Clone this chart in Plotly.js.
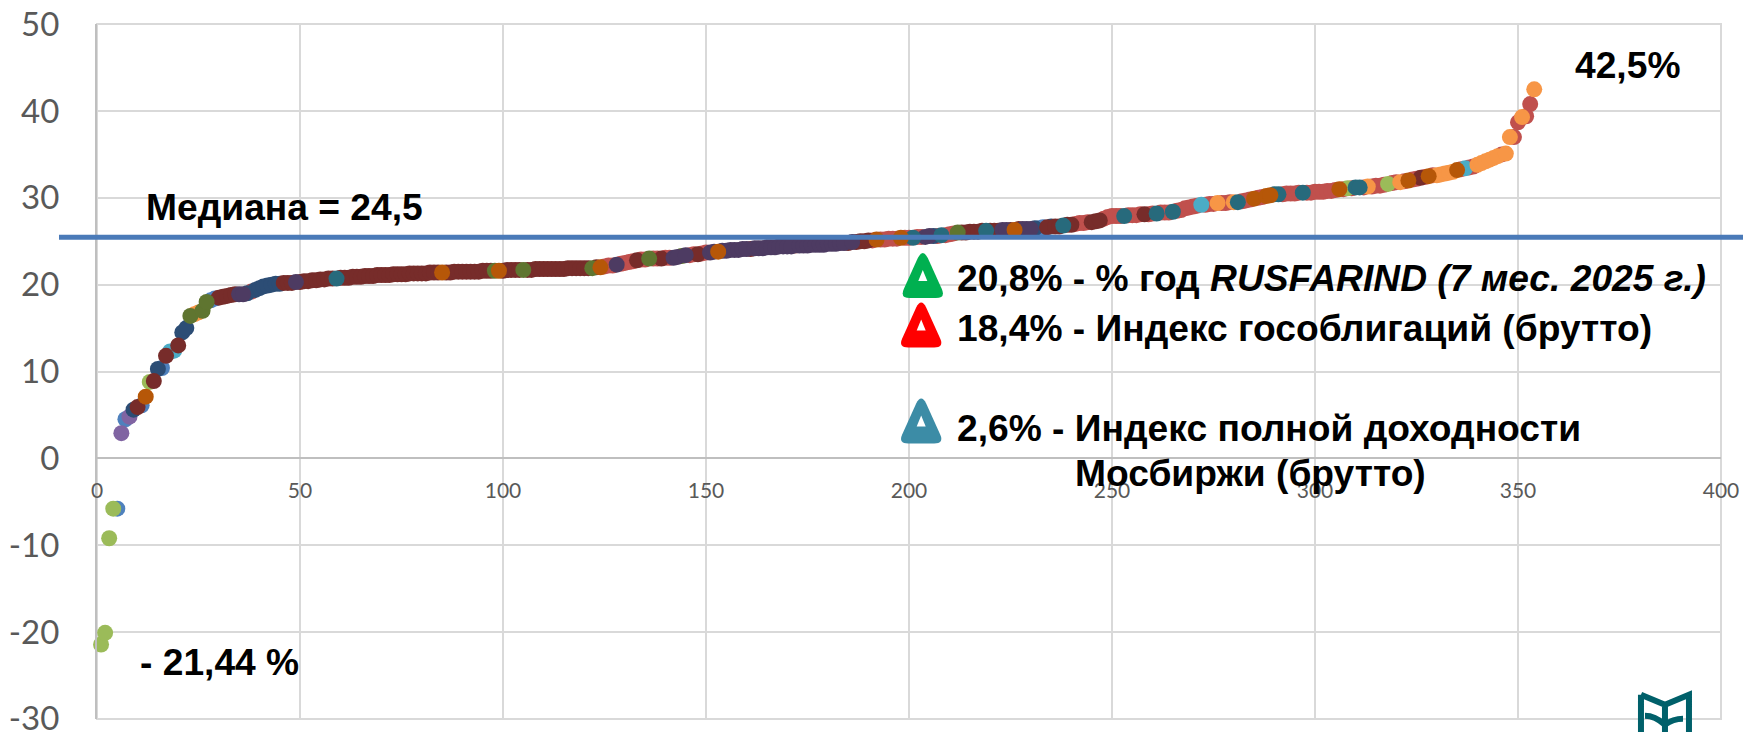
<!DOCTYPE html>
<html><head><meta charset="utf-8">
<script src="https://cdn.plot.ly/plotly-3.0.1.min.js"></script>
<style>html,body{margin:0;padding:0;background:#fff}#chart{width:1743px;height:732px}</style>
</head><body><div id="chart"></div>
<script>
// Return by rank (rank = index + 1)
const returns = [
-21.44,-20.1,-9.2,-5.8,-5.8,2.9,4.5,4.8,5.6,5.9,6.1,7.1,8.8,8.9,10.3,10.4,11.8,12.3,12.4,13.0,
14.5,15.0,16.4,16.6,16.8,17.0,18.0,18.2,18.4,18.5,18.6,18.7,18.8,18.9,18.9,18.9,19.0,19.2,19.4,19.6,
19.8,19.9,20.0,20.1,20.1,20.2,20.2,20.2,20.3,20.3,20.4,20.4,20.5,20.5,20.6,20.6,20.7,20.7,20.7,20.8,
20.8,20.8,20.9,20.9,20.9,21.0,21.0,21.0,21.1,21.1,21.1,21.1,21.2,21.2,21.2,21.2,21.3,21.3,21.3,21.3,
21.3,21.4,21.4,21.4,21.4,21.4,21.4,21.5,21.5,21.5,21.5,21.5,21.5,21.5,21.6,21.6,21.6,21.6,21.6,21.6,
21.7,21.7,21.7,21.7,21.7,21.7,21.7,21.8,21.8,21.8,21.8,21.8,21.8,21.8,21.8,21.9,21.9,21.9,21.9,21.9,
21.9,21.9,22.0,22.0,22.1,22.2,22.2,22.3,22.4,22.5,22.6,22.7,22.8,22.9,22.9,23.0,23.0,23.0,23.0,23.1,
23.1,23.1,23.2,23.3,23.4,23.4,23.5,23.5,23.6,23.7,23.7,23.8,23.8,23.9,23.9,24.0,24.0,24.0,24.1,24.1,
24.1,24.2,24.2,24.2,24.3,24.3,24.3,24.4,24.4,24.4,24.4,24.5,24.5,24.5,24.5,24.6,24.6,24.6,24.6,24.7,
24.7,24.7,24.8,24.8,24.8,24.9,24.9,25.0,25.0,25.1,25.1,25.2,25.2,25.2,25.3,25.3,25.3,25.4,25.4,25.4,
25.4,25.5,25.5,25.5,25.6,25.6,25.6,25.7,25.7,25.8,25.9,26.0,26.0,26.0,26.1,26.1,26.1,26.2,26.2,26.2,
26.2,26.2,26.3,26.3,26.3,26.3,26.4,26.4,26.4,26.4,26.5,26.5,26.6,26.6,26.7,26.7,26.7,26.8,26.9,26.9,
27.0,27.1,27.1,27.2,27.2,27.3,27.4,27.6,27.8,27.9,27.9,27.9,27.9,28.0,28.0,28.0,28.1,28.1,28.1,28.2,
28.2,28.3,28.3,28.3,28.4,28.5,28.6,28.8,28.9,29.0,29.1,29.2,29.2,29.3,29.3,29.4,29.4,29.4,29.5,29.5,
29.5,29.6,29.7,29.8,29.9,30.0,30.1,30.2,30.3,30.4,30.4,30.4,30.5,30.5,30.5,30.6,30.6,30.6,30.6,30.7,
30.7,30.7,30.8,30.8,30.9,31.0,31.0,31.1,31.1,31.2,31.2,31.2,31.3,31.3,31.4,31.4,31.5,31.6,31.7,31.8,
31.8,31.9,32.0,32.1,32.2,32.3,32.4,32.5,32.6,32.6,32.7,32.8,32.9,33.0,33.2,33.3,33.4,33.5,33.6,33.8,
34.0,34.2,34.4,34.6,34.8,35.0,35.1,37.0,37.0,38.7,39.3,39.4,40.8,42.5];

// Which ranks belong to which coloured group; [a,b] is a run of consecutive ranks
const blueRanks = [5,7,11,16,28,29,232,233];
const redRanks = [38,[125,127],[129,132],134,135,137,138,140,141,146,147,149,150,191,[193,197],199,200,202,203,207,[209,211],
  [241,244],[248,252],[254,257],259,260,[262,264],[266,271],[273,275],[277,279],[282,284],286,287,[292,296],[298,305],307,309,312,
  [314,317],319,320,322,324,325,327,329,336,338,339,346,349,350,352,353];
const greenRanks = [1,2,3,4,13,308,318];
const purpleRanks = [6,8];
const cyanRanks = [18,19,272,337];
const orangeRanks = [24,25,276,280,313,321,[330,334],[340,345],347,348,351,354];
const navyRanks = [9,15,21,22,37,[39,45],206,231,235];
const maroonRanks = [10,14,17,20,[30,34],[46,48],[50,58],[60,84],[86,97],[100,104],[106,121],123,133,139,148,161,172,185,[187,190],
  213,[214,218],220,221,222,225,227,234,236,237,239,240,[245,247],258,326];
const oliveRanks = [23,26,27,98,105,122,136,144,212];
const plumRanks = [35,36,49,128,142,143,145,151,152,[154,160],[162,171],[173,184],186,204,205,223,224,[228,230]];
const tealRanks = [59,201,208,219,238,253,261,265,281,290,291,297,310,311];
const rustRanks = [12,85,99,124,153,192,198,226,285,288,289,306,323,328,335];

const groups = [
  [blueRanks,'#4f81bd'],[redRanks,'#c0504d'],[greenRanks,'#9bbb59'],[purpleRanks,'#8064a2'],
  [cyanRanks,'#4bacc6'],[orangeRanks,'#f79646'],[navyRanks,'#2c4d75'],[maroonRanks,'#772c2a'],
  [oliveRanks,'#5f7530'],[plumRanks,'#4d3b62'],[tealRanks,'#276a7c'],[rustRanks,'#b65708']
];
const medianLevel = 25.45;
const yTickValues = [-30,-20,-10,0,10,20,30,40,50];
const yTickLabels = ['-30','-20','-10','0','10','20','30','40','50'];
const xTickValues = [0,50,100,150,200,250,300,350,400];
const xTickLabels = ['0','50','100','150','200','250','300','350','400'];

const expand = l => l.flatMap(v => { if(!Array.isArray(v)) return [v]; const o=[]; for(let i=v[0];i<=v[1];i++) o.push(i); return o; });
const traces = groups.map(([l,c]) => { const r = expand(l); return {
  type:'scatter', mode:'markers', x:r, y:r.map(k=>returns[k-1]),
  marker:{size:16,color:c,line:{width:0}}, cliponaxis:false, showlegend:false, hoverinfo:'x+y'
};});

const boldFont = {family:'"Liberation Sans",Arial,sans-serif',size:37.2,color:'#000'};
const note = (x,y,text) => ({x,y,text,xref:'x',yref:'y',showarrow:false,xanchor:'left',yanchor:'middle',align:'left',borderpad:0,font:boldFont});
const annotations = [
  note(363.8,45.25,'<b>42,5%</b>'),
  note(10.4,-23.4,'<b>- 21,44 %</b>'),
  note(11.9,28.9,'<b>Медиана = 24,5</b>'),
  note(211.5,20.8,'<b>20,8% - % год <i>RUSFARIND (7 мес. 2025 г.)</i></b>'),
  note(211.5,15.0,'<b>18,4% - Индекс гособлигаций (брутто)</b>'),
  note(211.5,3.5,'<b>2,6% - Индекс полной доходности</b>'),
  note(240.6,-1.65,'<b>Мосбиржи (брутто)</b>')
];
const triPath = 'M -5 17 Q 0 27 5 17 L 19 -14 Q 23 -23 13 -23 L -13 -23 Q -23 -23 -19 -14 Z';
const tri = (x,y,color) => [
  {type:'path',xref:'x',yref:'y',xsizemode:'pixel',ysizemode:'pixel',xanchor:x,yanchor:y,path:triPath,fillcolor:color,line:{width:0}},
  {type:'path',xref:'x',yref:'y',xsizemode:'pixel',ysizemode:'pixel',xanchor:x,yanchor:y,path:'M 0 5 L 4.5 -6 L -4.5 -6 Z',fillcolor:'#fff',line:{width:0}}
];
const logoLine = {color:'#00606a',width:6};
const logoShape = p => ({type:'path',xref:'paper',yref:'paper',xsizemode:'pixel',ysizemode:'pixel',xanchor:0.9655,yanchor:0.0393,path:p,line:logoLine,fillcolor:'rgba(0,0,0,0)'});
const shapes = [
  {type:'rect',xref:'paper',yref:'paper',x0:0,x1:1,y0:0,y1:1,layer:'below',line:{color:'#d9d9d9',width:2},fillcolor:'rgba(0,0,0,0)'},
  {type:'line',xref:'paper',yref:'y',x0:-0.0234,x1:1.02,y0:medianLevel,y1:medianLevel,line:{color:'#4a7ab8',width:5}},
  ...tri(203.4,21.1,'#00b050'),
  ...tri(203.0,15.4,'#ff0000'),
  ...tri(203.0,4.35,'#3c8ca6'),
  logoShape('M -24 -3 L 0 -13 L 24 -3 L 24 -42 M -24 -3 L -24 -42 M 0 -13 L 0 -42'),
  logoShape('M -20 -24 Q -10 -24 0 -33 M 18 -27 Q 8 -27 0 -33')
];

const layout = {
  width:1743,height:732,margin:{l:97,r:22,t:24,b:13,pad:0},
  paper_bgcolor:'#fff',plot_bgcolor:'#fff',showlegend:false,
  xaxis:{range:[0,400],tickmode:'array',tickvals:xTickValues,ticktext:xTickLabels,anchor:'free',position:0.375,showline:true,linecolor:'#bfbfbf',linewidth:2,
    showgrid:true,gridcolor:'#d9d9d9',gridwidth:2,zeroline:false,ticks:'',ticklabelstandoff:13,ticklabeloverflow:'allow',
    tickfont:{family:'Lato',size:21,color:'#595959'}},
  yaxis:{range:[-30.02,50.02],tickmode:'array',tickvals:yTickValues,ticktext:yTickLabels,showline:true,linecolor:'#bfbfbf',linewidth:2,
    showgrid:true,gridcolor:'#d9d9d9',gridwidth:2,zeroline:false,ticks:'',ticklabelstandoff:29,ticklabeloverflow:'allow',
    tickfont:{family:'Lato',size:33,color:'#595959'}},
  annotations,shapes
};
Plotly.newPlot('chart',traces,layout,{displayModeBar:false,staticPlot:true});
</script></body></html>
